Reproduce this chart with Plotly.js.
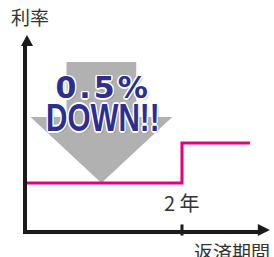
<!DOCTYPE html>
<html>
<head>
<meta charset="utf-8">
<script src="https://cdn.plot.ly/plotly-3.0.1.min.js"></script>
<style>html,body{margin:0;padding:0;background:#fff;}#chart{width:274px;height:257px;}</style>
</head>
<body>
<div id="chart"></div>
<script>
// ---- data ----
const periodYears = [0, 2, 2.877];          // repayment period (years)
const rateValues  = [1.0, 1.5, 1.5];        // interest rate level (arbitrary units, step of 0.5%)
const tickVals    = [2];
const tickLabels  = ['2 年'];
const yTitle      = '利率';
const xTitle      = '返済期間';
const badgeTop    = '0.5%';
const badgeBottom = 'DOWN!!';

// ---- decoration: gray down arrow pointing at the lowered rate ----
const arrowX = 0.96, tipY = rateValues[0];
const shaftHalf = 0.45, wingHalf = 0.915, wingY = 1.825, shaftTop = 2.5125;
const arrowPath = 'M' + (arrowX - shaftHalf) + ',' + shaftTop +
  ' L' + (arrowX + shaftHalf) + ',' + shaftTop +
  ' L' + (arrowX + shaftHalf) + ',' + wingY +
  ' L' + (arrowX + wingHalf) + ',' + wingY +
  ' L' + arrowX + ',' + tipY +
  ' L' + (arrowX - wingHalf) + ',' + wingY +
  ' L' + (arrowX - shaftHalf) + ',' + wingY + ' Z';

const outline = '1.5px 0 0 #fff, -1.5px 0 0 #fff, 0 1.5px 0 #fff, 0 -1.5px 0 #fff, 1px 1px 0 #fff, -1px -1px 0 #fff, 1px -1px 0 #fff, -1px 1px 0 #fff, 2px 2px 1px rgba(0,0,0,0.18)';
const blue = '#2b2f92';
const axisColor = '#1a1a1a';

const trace = {
  x: periodYears, y: rateValues, type: 'scatter', mode: 'lines',
  line: {shape: 'hv', color: '#e5007f', width: 3},
  hoverinfo: 'skip'
};

const shapes = [
  {type: 'path', xref: 'x', yref: 'y', path: arrowPath, fillcolor: '#b1b1b1', line: {width: 0}, layer: 'below'},
  // y-axis arrowhead
  {type: 'path', xref: 'paper', yref: 'paper', path: 'M-0.026,0.995 L0.026,0.995 L0,1.054 Z', fillcolor: axisColor, line: {width: 0}},
  // x-axis arrowhead
  {type: 'path', xref: 'paper', yref: 'paper', path: 'M0.995,-0.032 L0.995,0.032 L1.047,0 Z', fillcolor: axisColor, line: {width: 0}}
];
tickVals.forEach(function (v) {
  shapes.push({type: 'line', xref: 'x', yref: 'paper', x0: v, x1: v, y0: -0.03, y1: 0.03, line: {color: axisColor, width: 3}});
});

const annotations = [
  {xref: 'paper', yref: 'paper', x: -0.078, y: 1.07, xanchor: 'left', yanchor: 'bottom', text: yTitle, showarrow: false,
   font: {family: 'Noto Sans CJK JP', size: 19, color: '#333'}},
  {xref: 'paper', yref: 'paper', x: 1.055, y: -0.032, xanchor: 'right', yanchor: 'top', text: xTitle, showarrow: false,
   font: {family: 'Noto Sans CJK JP', size: 19, color: '#333'}},
  {xref: 'x', yref: 'y', x: 0.955, y: 2.2, text: badgeTop, showarrow: false,
   font: {family: 'DejaVu Sans', size: 30, weight: 'bold', color: blue, shadow: outline}},
  {xref: 'x', yref: 'y', x: 0.987, y: 1.81, text: badgeBottom, showarrow: false,
   font: {family: 'Liberation Sans', size: 38, weight: 'bold', color: blue, shadow: outline}}
];
tickVals.forEach(function (v, i) {
  annotations.push({xref: 'x', yref: 'paper', x: v, y: 0.151, yanchor: 'middle', text: tickLabels[i], showarrow: false,
    font: {family: 'Noto Sans CJK JP', size: 20, color: '#333'}});
});

const layout = {
  width: 274, height: 257,
  margin: {l: 27, r: 15, t: 45, b: 27, pad: 0},
  paper_bgcolor: '#fff', plot_bgcolor: '#fff',
  showlegend: false,
  xaxis: {range: [0, 2.994], showline: true, linewidth: 4, linecolor: axisColor, showgrid: false, zeroline: false,
          showticklabels: false, ticks: '', fixedrange: true},
  yaxis: {range: [0.4125, 2.725], showline: true, linewidth: 4, linecolor: axisColor, showgrid: false, zeroline: false,
          showticklabels: false, ticks: '', fixedrange: true},
  shapes: shapes,
  annotations: annotations
};

Plotly.newPlot('chart', [trace], layout, {displayModeBar: false, staticPlot: true}).then(function (gd) {
  gd.querySelectorAll('text.annotation-text').forEach(function (t) {
    const s = t.textContent;
    if (s === badgeBottom) {
      const b = t.getBBox();
      const cx = b.x + b.width / 2, cy = b.y + b.height / 2;
      t.setAttribute('transform', 'translate(' + cx + ',' + cy + ') scale(0.78,1) translate(' + (-cx) + ',' + (-cy) + ')');
    } else if (s === badgeTop) {
      t.style.letterSpacing = '3px';
      t.setAttribute('transform', 'translate(1.5,0)');
    }
  });
});
</script>
</body>
</html>
